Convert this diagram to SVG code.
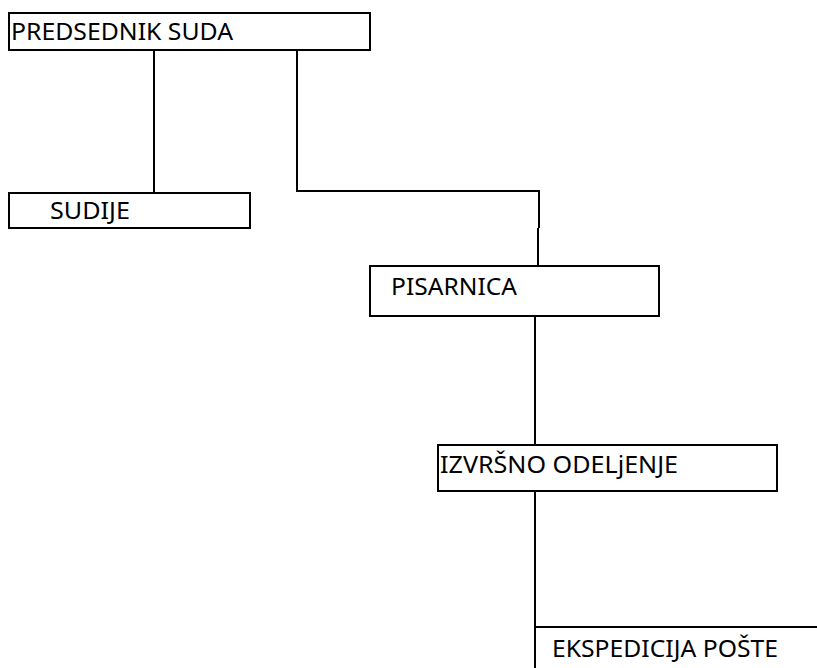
<svg xmlns="http://www.w3.org/2000/svg" width="817" height="668" viewBox="0 0 817 668">
<style>
.box{fill:#fff;stroke:#000;stroke-width:2}
.ln{fill:none;stroke:#000;stroke-width:2}
text{font-family:"Noto Sans","Open Sans","Liberation Sans",sans-serif;font-size:24px;fill:#000}
</style>
<rect width="817" height="668" fill="#fff"/>
<g id="connectors">
<line class="ln" x1="154" y1="50" x2="154" y2="193"/>
<polyline class="ln" points="297,50 297,191 539,191 539,228"/>
<line class="ln" x1="538" y1="228" x2="538" y2="266"/>
<line class="ln" x1="535" y1="316" x2="535" y2="445"/>
<line class="ln" x1="535" y1="491" x2="535" y2="627"/>
</g>
<g id="predsednik">
<rect class="box" x="9" y="13" width="361" height="37"/>
<text x="11" y="40" textLength="222" lengthAdjust="spacingAndGlyphs">PREDSEDNIK SUDA</text>
</g>
<g id="sudije">
<rect class="box" x="9" y="193" width="241" height="35"/>
<text x="50" y="219" textLength="80" lengthAdjust="spacingAndGlyphs">SUDIJE</text>
</g>
<g id="pisarnica">
<rect class="box" x="370" y="266" width="289" height="50"/>
<text x="391" y="295" textLength="126" lengthAdjust="spacingAndGlyphs">PISARNICA</text>
</g>
<g id="izvrsno">
<rect class="box" x="438" y="445" width="339" height="46"/>
<text x="440" y="473" textLength="238" lengthAdjust="spacingAndGlyphs">IZVRŠNO ODELjENJE</text>
</g>
<g id="ekspedicija">
<polyline class="ln" points="535,668 535,627 817,627"/>
<text x="552" y="657" textLength="226" lengthAdjust="spacingAndGlyphs">EKSPEDICIJA POŠTE</text>
</g>
</svg>
